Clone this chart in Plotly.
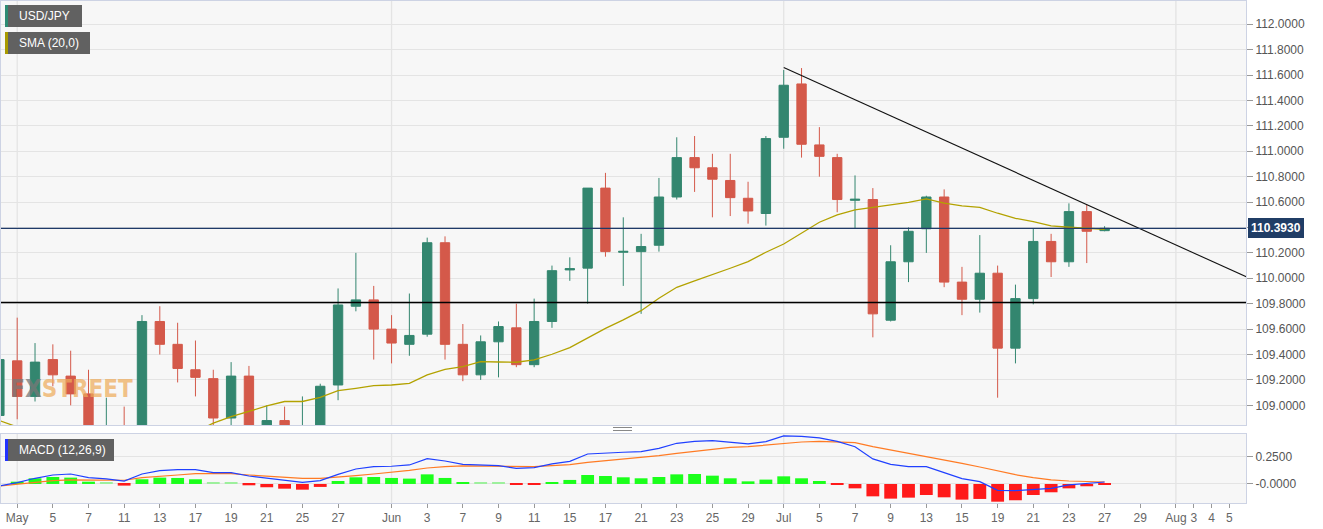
import plotly.graph_objects as go
import pandas as pd

# ---------------- data ----------------
sessions = [d.strftime("%Y-%m-%d") for d in pd.bdate_range("2021-04-30", "2021-07-27")]
future_sessions = [d.strftime("%Y-%m-%d") for d in pd.bdate_range("2021-07-28", "2021-08-09")]

open_ = [108.92,
         109.35, 109.07, 109.36, 109.23, 109.09, 108.60, 108.81, 108.61, 109.66, 109.48,
         109.28, 109.21, 108.90, 109.23, 108.77, 108.88, 108.72, 108.78, 109.16, 109.78,
         109.83, 109.60, 109.48, 109.56, 110.28, 109.48, 109.24, 109.50, 109.61, 109.32,
         109.66, 110.066, 110.08, 110.71, 110.205, 110.21, 110.26, 110.64, 110.95, 110.87,
         110.77, 110.63, 110.51, 111.11, 111.53, 111.05, 110.95, 110.614, 110.62, 109.67,
         110.13, 110.39, 110.64, 109.97, 109.835, 110.04, 109.45, 109.84, 110.29, 110.13,
         110.525, 110.375]
high = [109.38,
        109.69, 109.49, 109.48, 109.43, 109.28, 109.06, 108.99, 109.71, 109.78, 109.65,
        109.51, 109.28, 109.34, 109.31, 109.00, 108.99, 109.07, 109.17, 109.92, 110.20,
        109.94, 109.71, 109.88, 110.32, 110.33, 109.64, 109.55, 109.66, 109.80, 109.84,
        110.10, 110.165, 110.71, 110.83, 110.48, 110.35, 110.79, 111.11, 111.12, 110.98,
        110.98, 110.76, 111.12, 111.64, 111.655, 111.19, 110.98, 110.81, 110.71, 110.26,
        110.40, 110.65, 110.70, 110.09, 110.34, 110.10, 109.95, 110.39, 110.35, 110.59,
        110.58, 110.41]
low = [108.80,
       108.89, 109.03, 109.15, 109.00, 108.34, 108.43, 108.35, 108.53, 109.40, 109.18,
       109.07, 108.83, 108.84, 108.55, 108.70, 108.63, 108.56, 108.70, 109.04, 109.74,
       109.36, 109.33, 109.39, 109.54, 109.36, 109.19, 109.20, 109.22, 109.30, 109.30,
       109.61, 109.98, 109.80, 110.17, 109.94, 109.72, 110.21, 110.62, 110.68, 110.48,
       110.49, 110.43, 110.415, 111.02, 110.95, 110.80, 110.52, 110.394, 109.535, 109.66,
       109.97, 110.20, 109.93, 109.71, 109.73, 109.06, 109.33, 109.795, 110.01, 110.09,
       110.12, 110.37]
close = [109.36,
         109.07, 109.34, 109.24, 109.09, 108.60, 108.81, 108.61, 109.66, 109.48, 109.29,
         109.22, 108.90, 109.23, 108.77, 108.88, 108.72, 108.78, 109.15, 109.79, 109.83,
         109.60, 109.49, 109.55, 110.28, 109.48, 109.24, 109.50, 109.62, 109.32, 109.66,
         110.06, 110.076, 110.71, 110.21, 110.212, 110.25, 110.64, 110.95, 110.87, 110.78,
         110.635, 110.53, 111.10, 111.52, 111.055, 110.96, 110.62, 110.622, 109.72, 110.13,
         110.37, 110.64, 109.97, 109.835, 110.04, 109.45, 109.84, 110.29, 110.13, 110.525,
         110.37, 110.393]
sma20 = [108.88,
         108.83, 108.80, 108.78, 108.76, 108.74, 108.72, 108.71, 108.71, 108.72, 108.75,
         108.79, 108.86, 108.91, 108.955, 108.995, 109.03, 109.03, 109.063, 109.115, 109.134,
         109.155, 109.160, 109.173, 109.239, 109.283, 109.304, 109.344, 109.341, 109.339, 109.357,
         109.402, 109.454, 109.528, 109.606, 109.672, 109.745, 109.843, 109.929, 109.979, 110.026,
         110.079, 110.131, 110.205, 110.270, 110.354, 110.441, 110.499, 110.538, 110.559, 110.580,
         110.598, 110.625, 110.591, 110.570, 110.559, 110.512, 110.472, 110.446, 110.412, 110.402,
         110.391, 110.386]
macd_line = [-0.018,
             0.012, 0.052, 0.082, 0.091, 0.058, 0.046, 0.027, 0.091, 0.122, 0.131,
             0.131, 0.104, 0.104, 0.073, 0.052, 0.030, 0.015, 0.030, 0.088, 0.137,
             0.159, 0.162, 0.174, 0.232, 0.210, 0.180, 0.177, 0.168, 0.143, 0.149,
             0.183, 0.207, 0.274, 0.284, 0.290, 0.296, 0.326, 0.372, 0.390, 0.396,
             0.384, 0.366, 0.387, 0.439, 0.436, 0.421, 0.390, 0.341, 0.229, 0.180,
             0.159, 0.159, 0.104, 0.049, 0.021, -0.058, -0.061, -0.049, -0.040, -0.009,
             0.006, 0.018]
signal_line = [-0.018,
               -0.003, 0.015, 0.030, 0.037, 0.037, 0.037, 0.034, 0.058, 0.073, 0.082,
               0.095, 0.098, 0.095, 0.082, 0.073, 0.061, 0.052, 0.052, 0.061, 0.076,
               0.091, 0.107, 0.125, 0.146, 0.159, 0.165, 0.165, 0.165, 0.159, 0.159,
               0.168, 0.177, 0.198, 0.213, 0.229, 0.244, 0.259, 0.280, 0.299, 0.317,
               0.335, 0.341, 0.354, 0.369, 0.384, 0.390, 0.387, 0.378, 0.341, 0.311,
               0.280, 0.253, 0.223, 0.189, 0.155, 0.119, 0.085, 0.058, 0.037, 0.027,
               0.021, 0.018]
macd_hist = [0.0,
             0.021, 0.052, 0.064, 0.058, 0.021, 0.009, -0.015, 0.043, 0.058, 0.055,
             0.043, 0.012, 0.012, -0.012, -0.030, -0.043, -0.052, -0.027, 0.027, 0.061,
             0.064, 0.055, 0.049, 0.088, 0.055, 0.018, 0.009, 0.009, -0.009, -0.006,
             0.018, 0.037, 0.082, 0.073, 0.061, 0.052, 0.064, 0.088, 0.091, 0.076,
             0.052, 0.024, 0.040, 0.070, 0.052, 0.027, -0.006, -0.040, -0.113, -0.134,
             -0.125, -0.101, -0.122, -0.143, -0.137, -0.162, -0.149, -0.101, -0.076, -0.040,
             -0.021, -0.006]

tick_dates = ["2021-05-03", "2021-05-05", "2021-05-07", "2021-05-11", "2021-05-13",
              "2021-05-17", "2021-05-19", "2021-05-21", "2021-05-25", "2021-05-27",
              "2021-06-01", "2021-06-03", "2021-06-07", "2021-06-09", "2021-06-11",
              "2021-06-15", "2021-06-17", "2021-06-21", "2021-06-23", "2021-06-25",
              "2021-06-29", "2021-07-01", "2021-07-05", "2021-07-07", "2021-07-09",
              "2021-07-13", "2021-07-15", "2021-07-19", "2021-07-21", "2021-07-23",
              "2021-07-27", "2021-07-29", "2021-08-02", "2021-08-03", "2021-08-04",
              "2021-08-05"]
tick_text = ["May", "5", "7", "11", "13", "17", "19", "21", "25", "27",
             "Jun", "3", "7", "9", "11", "15", "17", "21", "23", "25", "29",
             "Jul", "5", "7", "9", "13", "15", "19", "21", "23", "27", "29",
             "Aug", "3", "4", "5"]
month_starts = ["2021-05-03", "2021-06-01", "2021-07-01", "2021-08-02"]

trend_dates = ["2021-07-01", "2021-08-09"]
trend_values = [111.66, 109.945]
support_level = 109.81
last_price = 110.393

main_ticks = [109.0, 109.2, 109.4, 109.6, 109.8, 110.0, 110.2, 110.4, 110.6, 110.8,
              111.0, 111.2, 111.4, 111.6, 111.8, 112.0]
macd_ticks = [0.25, 0.0]
macd_tick_text = ["0.2500", "-0.0000"]

# ---------------- session index axis ----------------
all_sessions = sessions + future_sessions
pos = {d: k - 1 for k, d in enumerate(all_sessions)}   # Apr 30 -> -1, May 3 -> 0
x = [pos[d] for d in sessions]

W, H = 1323, 529
ML, MR, MT, MB = 1, 77, 1, 26
PW, PH = W - ML - MR, H - MT - MB


def px_x(p):
    return (p - ML) / PW


def px_y(p):
    return (H - MB - p) / PH


GREEN = "#33866f"
RED = "#d4594a"

fig = go.Figure()

# watermark (behind candles)
fig.add_trace(go.Scatter(
    x=[pos["2021-05-06"] + 0.05], y=[109.115], mode="text",
    text=["<span style='color:rgba(120,120,120,0.75)'>FX</span>"
          "<span style='color:rgba(238,172,92,0.72)'>STREET</span>"],
    textfont=dict(family="DejaVu Sans Condensed, DejaVu Sans", size=24, weight="bold"),
    hoverinfo="skip", showlegend=False, xaxis="x", yaxis="y"))

fig.add_trace(go.Candlestick(
    x=x, open=open_, high=high, low=low, close=close,
    increasing=dict(line=dict(color=GREEN, width=1), fillcolor=GREEN),
    decreasing=dict(line=dict(color=RED, width=1), fillcolor=RED),
    whiskerwidth=0, showlegend=False, hoverinfo="skip", xaxis="x", yaxis="y"))

fig.add_trace(go.Scatter(x=x, y=sma20, mode="lines",
                         line=dict(color="#b3a200", width=1.3),
                         showlegend=False, xaxis="x", yaxis="y"))

fig.add_trace(go.Scatter(x=[pos[d] for d in trend_dates], y=trend_values, mode="lines",
                         line=dict(color="#111111", width=1.1),
                         showlegend=False, xaxis="x", yaxis="y"))

hist_colors = []
for v in macd_hist:
    if v < 0:
        hist_colors.append("#ff1a1a")
    elif v < 0.015:
        hist_colors.append("#9df09d")
    else:
        hist_colors.append("#1bff1b")

fig.add_trace(go.Bar(x=x, y=macd_hist, marker=dict(color=hist_colors, line=dict(width=0)),
                     width=0.72, showlegend=False, xaxis="x2", yaxis="y2"))
fig.add_trace(go.Scatter(x=x, y=signal_line, mode="lines",
                         line=dict(color="#ff7b24", width=1.2),
                         showlegend=False, xaxis="x2", yaxis="y2"))
fig.add_trace(go.Scatter(x=x, y=macd_line, mode="lines",
                         line=dict(color="#2040ff", width=1.2),
                         showlegend=False, xaxis="x2", yaxis="y2"))

x0 = -(17.2 - ML) / 17.826
xr = [x0, x0 + PW / 17.826]

main_dom = [px_y(425), 1.0]
macd_dom = [0.0, px_y(434)]

axis_line = "#cdd3e4"
grid = "#e4e4e4"

# the last-price tag covers the 110.4000 label in the reference
main_tick_text = ["" if abs(v - last_price) < 0.05 else "%.4f" % v for v in main_ticks]

fig.update_layout(
    width=W, height=H,
    margin=dict(l=ML, r=MR, t=MT, b=MB),
    paper_bgcolor="white", plot_bgcolor="#f7f7f7",
    bargap=0.3, boxgap=0.25, hovermode=False,
    font=dict(family="Liberation Sans, Arial, sans-serif", size=12, color="#555"),
    xaxis=dict(domain=[0, 1], anchor="y", range=xr, showgrid=False, zeroline=False,
               showticklabels=False, showline=True, mirror=True, linecolor=axis_line,
               rangeslider=dict(visible=False), fixedrange=True),
    yaxis=dict(domain=main_dom, anchor="x", side="right", range=[108.845, 112.183],
               tickvals=main_ticks, ticktext=main_tick_text, showgrid=True, gridcolor=grid,
               zeroline=False, ticks="outside", ticklen=6, tickcolor="#999",
               showline=True, mirror=True, linecolor=axis_line,
               tickfont=dict(size=12, color="#555")),
    xaxis2=dict(domain=[0, 1], anchor="y2", matches="x", range=xr, showgrid=False,
                zeroline=False, tickvals=[pos[d] for d in tick_dates], ticktext=tick_text,
                ticks="outside", ticklen=4, tickcolor="#999", showline=True, mirror=True,
                linecolor=axis_line, tickfont=dict(size=12, color="#666")),
    yaxis2=dict(domain=macd_dom, anchor="x2", side="right", range=[-0.174, 0.457],
                tickvals=macd_ticks, ticktext=macd_tick_text, showgrid=True, gridcolor=grid,
                zeroline=False, ticks="outside", ticklen=6, tickcolor="#999",
                showline=True, mirror=True, linecolor=axis_line,
                tickfont=dict(size=12, color="#555")),
)

shapes = []
# vertical month grid lines
for d in month_starts:
    for yref in ("y domain", "y2 domain"):
        shapes.append(dict(type="line", xref="x", yref=yref, x0=pos[d], x1=pos[d],
                           y0=0, y1=1, line=dict(color=grid, width=1.3), layer="below"))
# support and last price lines
shapes.append(dict(type="line", xref="x domain", yref="y", x0=0, x1=1,
                   y0=support_level, y1=support_level, line=dict(color="#000", width=1.5)))
shapes.append(dict(type="line", xref="x domain", yref="y", x0=0, x1=1,
                   y0=last_price, y1=last_price, line=dict(color="#1f3a68", width=1.2)))
# label boxes
for (bx0, bx1, by0, by1, stripe) in [(5, 82, 5, 27, "#2e8b73"), (5, 90, 32, 54, "#a89a00"),
                                     (5, 114, 439, 461, "#2233ff")]:
    shapes.append(dict(type="rect", xref="paper", yref="paper",
                       x0=px_x(bx0), x1=px_x(bx1), y0=px_y(by1), y1=px_y(by0),
                       fillcolor="#616161", line=dict(width=0)))
    shapes.append(dict(type="rect", xref="paper", yref="paper",
                       x0=px_x(bx0), x1=px_x(bx0 + 3), y0=px_y(by1), y1=px_y(by0),
                       fillcolor=stripe, line=dict(width=0)))
# panel drag handle
for yy in (427.5, 430.5):
    shapes.append(dict(type="line", xref="paper", yref="paper",
                       x0=px_x(613), x1=px_x(632), y0=px_y(yy), y1=px_y(yy),
                       line=dict(color="#888", width=1)))
fig.update_layout(shapes=shapes)

annotations = []
for (tx, ty, txt) in [(17, 16, "USD/JPY"), (17, 43, "SMA (20,0)"), (17, 450, "MACD (12,26,9)")]:
    annotations.append(dict(xref="paper", yref="paper", x=px_x(tx), y=px_y(ty),
                            xanchor="left", yanchor="middle", showarrow=False,
                            text=txt, font=dict(color="white", size=12,
                                                family="Liberation Sans, Arial")))
annotations.append(dict(xref="paper", yref="y", x=1, y=last_price, xanchor="left",
                        yanchor="middle", xshift=2, showarrow=False,
                        text="<b>%.4f</b>" % last_price, bgcolor="#203d66",
                        bordercolor="#203d66", borderpad=2,
                        font=dict(color="white", size=12, family="Liberation Sans, Arial")))
fig.update_layout(annotations=annotations)

fig.write_html("out.html", config={"displayModeBar": False},
               post_script="document.body.style.margin='0';document.body.style.overflow='hidden';")
